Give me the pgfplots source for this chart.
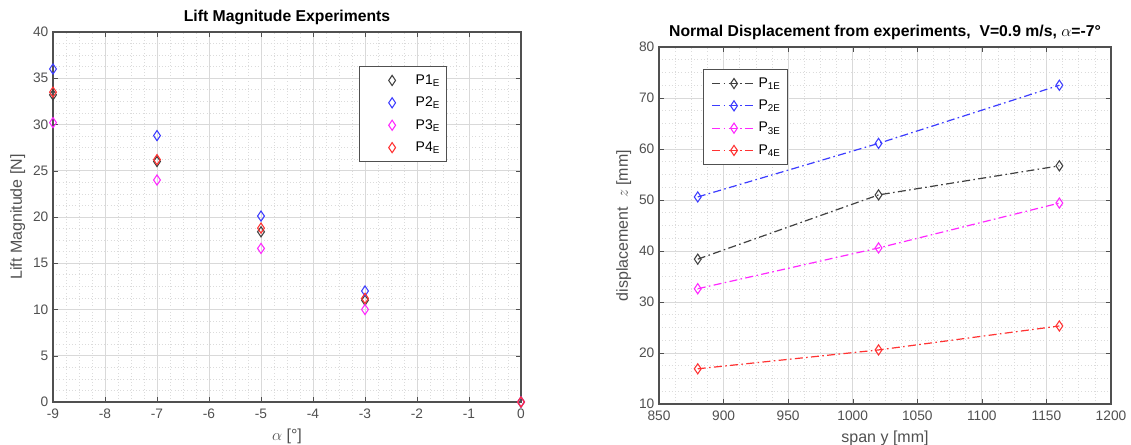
\documentclass[border=0pt]{standalone}
\usepackage{pgfplots}
\pgfplotsset{compat=1.18}
\usepackage{fontspec}
\setmainfont{Liberation Sans}
\definecolor{axgray}{RGB}{80,80,80}
\definecolor{mblue}{RGB}{60,60,255}
\definecolor{mmag}{RGB}{255,40,255}
\definecolor{mred}{RGB}{255,50,50}
\pgfplotsset{
  mstyle/.style={
    scale only axis,
    /pgf/number format/assume math mode=true,
    axis line style={axgray, line width=0.9pt},
    tick style={axgray},
    tick align=inside,
    major tick length=4pt,
    minor tick length=0pt,
    minor tick num=3,
    grid=both,
    major grid style={gray!30, line width=0.6pt},
    minor grid style={gray!28, dotted, line width=0.5pt},
    ticklabel style={font=\fontsize{10.3}{12}\selectfont, text=axgray},
    xticklabel style={yshift=-1.5pt},
    label style={font=\fontsize{12}{14}\selectfont, text=axgray},
    title style={font=\bfseries\fontsize{11.8}{13}\selectfont, yshift=-4pt},
    legend style={draw=axgray, line width=0.9pt, font=\fontsize{10.5}{12.5}\selectfont, text=black, cells={anchor=west}, row sep=4pt, inner xsep=3pt, inner ysep=4pt},
    legend cell align=left,
  },
  dia/.style={mark=diamond, mark size=3.8pt, mark options={solid, xscale=0.9, line width=0.8pt}},
  ddot/.style={dash pattern=on 6pt off 2.5pt on 1.2pt off 2.5pt, line width=0.9pt},
}
\begin{document}
\begin{tikzpicture}
\path[use as bounding box] (0,0) rectangle (848.25pt,333.75pt);
\begin{axis}[mstyle,
  at={(39.75pt,32.25pt)}, anchor=south west,
  width=351pt, height=277.5pt,
  xmin=-9, xmax=0, ymin=0, ymax=40,
  xtick={-9,-8,...,0}, ytick={0,5,...,40},
  title={Lift Magnitude Experiments},
  xlabel={$\alpha$ [°]}, ylabel={Lift Magnitude [N]},
  xlabel style={yshift=-1pt}, ylabel style={yshift=-1pt},
  clip=false,
  legend style={at={(0.654,0.908)}, anchor=north west},
  every axis plot post/.append style={legend image code/.code={\path[draw=none] (0cm,0cm) -- (1.3cm,0cm); \draw plot coordinates {(0.75cm,0cm)};}},
]
\addplot[only marks, dia, color=black!75] coordinates {(-9,33.2) (-7,26.0) (-5,18.4) (-3,11.0) (0,0)};
\addlegendentry{P1$_\mathrm{E}$}
\addplot[only marks, dia, color=mblue] coordinates {(-9,36.0) (-7,28.8) (-5,20.1) (-3,12.0) (0,0)};
\addlegendentry{P2$_\mathrm{E}$}
\addplot[only marks, dia, color=mmag] coordinates {(-9,30.2) (-7,24.0) (-5,16.6) (-3,10.0) (0,0)};
\addlegendentry{P3$_\mathrm{E}$}
\addplot[only marks, dia, color=mred] coordinates {(-9,33.5) (-7,26.2) (-5,18.8) (-3,11.2) (0,0)};
\addlegendentry{P4$_\mathrm{E}$}
\end{axis}
\begin{axis}[mstyle,
  at={(494.25pt,30.75pt)}, anchor=south west,
  width=339pt, height=267.75pt,
  xmin=850, xmax=1200, ymin=10, ymax=80,
  xtick={850,900,...,1200}, ytick={10,20,...,80},
  title={Normal Displacement from experiments,\ \ V=0.9 m/s, $\alpha$=-7°},
  xlabel={span y [mm]}, ylabel={displacement\ \ $z$ [mm]},
  xlabel style={yshift=-1pt}, ylabel style={yshift=-1pt},
  /pgf/number format/1000 sep={},
  legend style={at={(0.097,0.938)}, anchor=north west},
  every axis plot post/.append style={legend image code/.code={\path[draw=none] (0cm,0cm) -- (1.26cm,0cm); \draw (0.13cm,0cm) -- (1.26cm,0cm); \draw plot coordinates {(0.7cm,0cm)};}},
]
\addplot[ddot, dia, color=black!75] coordinates {(880,38.4) (1020,51.0) (1160,56.7)};
\addlegendentry{P$_\mathrm{1E}$}
\addplot[ddot, dia, color=mblue] coordinates {(880,50.6) (1020,61.1) (1160,72.5)};
\addlegendentry{P$_\mathrm{2E}$}
\addplot[ddot, dia, color=mmag] coordinates {(880,32.6) (1020,40.6) (1160,49.4)};
\addlegendentry{P$_\mathrm{3E}$}
\addplot[ddot, dia, color=mred] coordinates {(880,16.9) (1020,20.6) (1160,25.3)};
\addlegendentry{P$_\mathrm{4E}$}
\end{axis}
\end{tikzpicture}
\end{document}
